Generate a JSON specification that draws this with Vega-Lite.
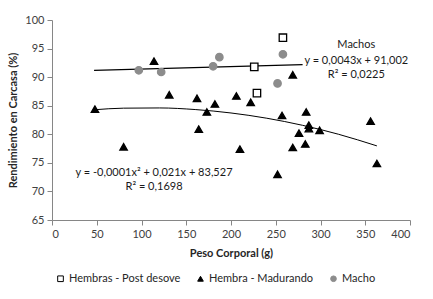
{
  "$schema": "https://vega.github.io/schema/vega-lite/v6.json",
  "autosize": "none",
  "padding": {"left": 52, "top": 20, "right": 23, "bottom": 79},
  "width": 358,
  "height": 200,
  "background": "white",
  "config": {
    "view": {"stroke": null},
    "axis": {
      "grid": false,
      "domainColor": "#868686",
      "tickColor": "#868686",
      "labelColor": "#404040",
      "labelFont": "Lato",
      "labelFontSize": 11,
      "titleFont": "Lato",
      "titleFontSize": 11,
      "titleFontWeight": "bold",
      "titleColor": "#262626",
      "tickSize": 5
    },
    "legend": {"labelFont": "Lato", "labelFontSize": 11, "labelColor": "#262626"}
  },
  "datasets": {
    "pts": [
      {"peso": 258, "rend": 96.9, "grupo": "Hembras - Post desove"},
      {"peso": 226, "rend": 91.8, "grupo": "Hembras - Post desove"},
      {"peso": 229, "rend": 87.2, "grupo": "Hembras - Post desove"},
      {"peso": 48, "rend": 84.4, "grupo": "Hembra - Madurando"},
      {"peso": 80, "rend": 77.8, "grupo": "Hembra - Madurando"},
      {"peso": 114, "rend": 92.8, "grupo": "Hembra - Madurando"},
      {"peso": 131, "rend": 86.9, "grupo": "Hembra - Madurando"},
      {"peso": 162, "rend": 86.3, "grupo": "Hembra - Madurando"},
      {"peso": 164, "rend": 80.9, "grupo": "Hembra - Madurando"},
      {"peso": 173, "rend": 83.9, "grupo": "Hembra - Madurando"},
      {"peso": 182, "rend": 85.3, "grupo": "Hembra - Madurando"},
      {"peso": 206, "rend": 86.7, "grupo": "Hembra - Madurando"},
      {"peso": 210, "rend": 77.4, "grupo": "Hembra - Madurando"},
      {"peso": 222, "rend": 85.6, "grupo": "Hembra - Madurando"},
      {"peso": 252, "rend": 73.0, "grupo": "Hembra - Madurando"},
      {"peso": 257, "rend": 83.3, "grupo": "Hembra - Madurando"},
      {"peso": 269, "rend": 90.4, "grupo": "Hembra - Madurando"},
      {"peso": 269, "rend": 77.7, "grupo": "Hembra - Madurando"},
      {"peso": 276, "rend": 80.2, "grupo": "Hembra - Madurando"},
      {"peso": 283, "rend": 78.3, "grupo": "Hembra - Madurando"},
      {"peso": 284, "rend": 83.9, "grupo": "Hembra - Madurando"},
      {"peso": 287, "rend": 81.6, "grupo": "Hembra - Madurando"},
      {"peso": 287, "rend": 81.0, "grupo": "Hembra - Madurando"},
      {"peso": 299, "rend": 80.7, "grupo": "Hembra - Madurando"},
      {"peso": 356, "rend": 82.3, "grupo": "Hembra - Madurando"},
      {"peso": 363, "rend": 74.9, "grupo": "Hembra - Madurando"},
      {"peso": 97, "rend": 91.2, "grupo": "Macho"},
      {"peso": 122, "rend": 90.9, "grupo": "Macho"},
      {"peso": 180, "rend": 91.9, "grupo": "Macho"},
      {"peso": 187, "rend": 93.5, "grupo": "Macho"},
      {"peso": 258, "rend": 94.0, "grupo": "Macho"},
      {"peso": 252, "rend": 88.9, "grupo": "Macho"}
    ],
    "machosTrend": [
      {"peso": 47, "rend": 91.2},
      {"peso": 280, "rend": 92.2}
    ],
    "quadTrend": [
      {"peso": 47, "rend": 84.29},
      {"peso": 80, "rend": 84.57},
      {"peso": 120, "rend": 84.61},
      {"peso": 160, "rend": 84.33},
      {"peso": 200, "rend": 83.73},
      {"peso": 240, "rend": 82.81},
      {"peso": 280, "rend": 81.57},
      {"peso": 320, "rend": 80.01},
      {"peso": 363, "rend": 77.97}
    ],
    "labels": [
      {"peso": 340, "rend": 95.6, "txt": "Machos"},
      {"peso": 340, "rend": 92.9, "txt": "y = 0,0043x + 91,002"},
      {"peso": 340, "rend": 90.4, "txt": "R² = 0,0225"},
      {"peso": 114, "rend": 73.3, "txt": "y = -0,0001x² + 0,021x + 83,527"},
      {"peso": 114, "rend": 70.7, "txt": "R² = 0,1698"}
    ]
  },
  "encoding": {
    "x": {
      "field": "peso", "type": "quantitative",
      "scale": {"domain": [0, 400], "nice": false},
      "axis": {"title": "Peso Corporal (g)", "values": [0, 50, 100, 150, 200, 250, 300, 350, 400], "labelPadding": 3, "titlePadding": 8}
    },
    "y": {
      "field": "rend", "type": "quantitative",
      "scale": {"domain": [65, 100], "nice": false, "zero": false},
      "axis": {"title": "Rendimiento en Carcasa (%)", "values": [65, 70, 75, 80, 85, 90, 95, 100], "labelPadding": 3, "titlePadding": 6}
    }
  },
  "layer": [
    {
      "data": {"name": "machosTrend"},
      "mark": {"type": "line", "color": "#000000", "strokeWidth": 1.2}
    },
    {
      "data": {"name": "quadTrend"},
      "mark": {"type": "line", "color": "#000000", "strokeWidth": 1, "interpolate": "monotone"}
    },
    {
      "data": {"name": "pts"},
      "mark": {"type": "point", "opacity": 1, "strokeWidth": 1.3, "size": 55},
      "encoding": {
        "shape": {
          "field": "grupo", "type": "nominal",
          "scale": {"domain": ["Hembras - Post desove", "Hembra - Madurando", "Macho"], "range": ["square", "triangle-up", "circle"]},
          "legend": {"title": null, "orient": "none", "legendX": 3, "legendY": 253, "direction": "horizontal", "columnPadding": 14, "labelOffset": 3, "symbolSize": 32, "symbolStrokeWidth": 1}
        },
        "fill": {
          "field": "grupo", "type": "nominal",
          "scale": {"domain": ["Hembras - Post desove", "Hembra - Madurando", "Macho"], "range": ["#ffffff", "#000000", "#8c8c8c"]},
          "legend": {"title": null, "orient": "none", "legendX": 3, "legendY": 253, "direction": "horizontal", "columnPadding": 14, "labelOffset": 3, "symbolSize": 32, "symbolStrokeWidth": 1}
        },
        "stroke": {
          "field": "grupo", "type": "nominal",
          "scale": {"domain": ["Hembras - Post desove", "Hembra - Madurando", "Macho"], "range": ["#000000", "#000000", "#8c8c8c"]},
          "legend": {"title": null, "orient": "none", "legendX": 3, "legendY": 253, "direction": "horizontal", "columnPadding": 14, "labelOffset": 3, "symbolSize": 32, "symbolStrokeWidth": 1}
        }
      }
    },
    {
      "data": {"name": "labels"},
      "mark": {"type": "text", "font": "Lato", "fontSize": 11, "color": "#1a1a1a", "align": "center", "baseline": "middle"},
      "encoding": {"text": {"field": "txt", "type": "nominal"}}
    }
  ]
}
